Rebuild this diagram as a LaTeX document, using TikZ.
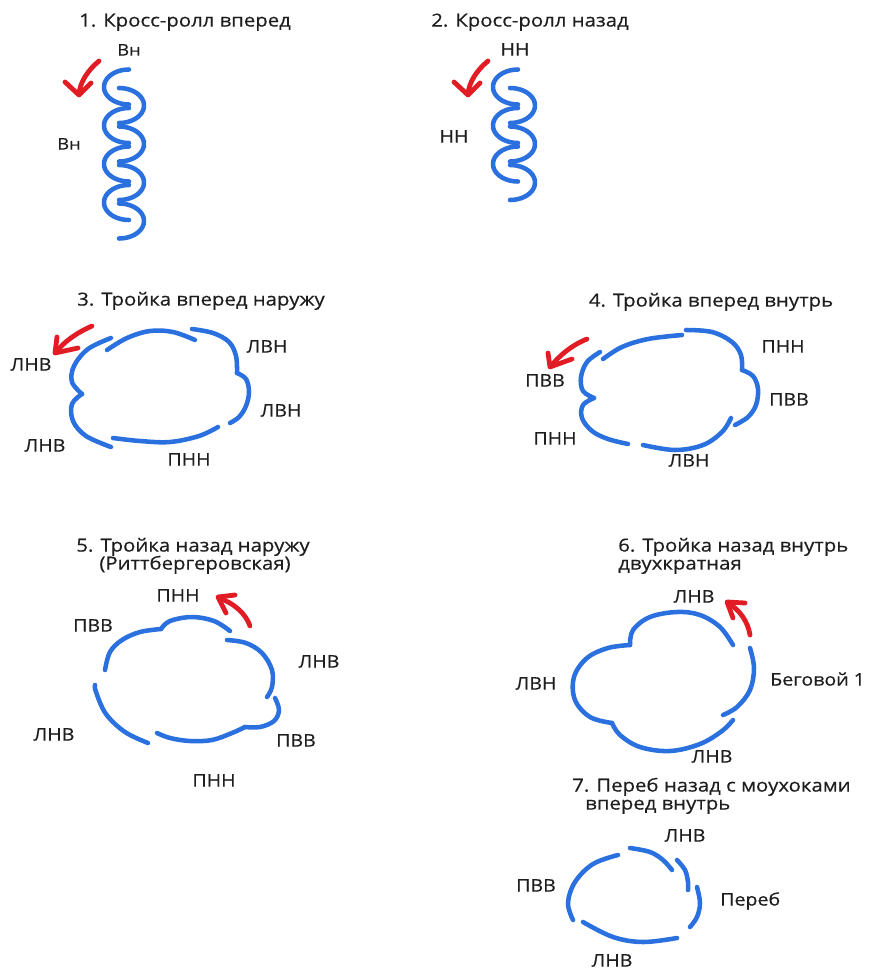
\documentclass[tikz,border=0pt]{standalone}
\usepackage{fontspec}
\setmainfont{Open Sans}[FakeStretch=1.13, FakeBold=0.4]
\definecolor{skateblue}{RGB}{42,112,222}
\definecolor{turnred}{RGB}{226,28,36}
\definecolor{inkgray}{RGB}{30,30,30}
\begin{document}
\begin{tikzpicture}[x=0.75pt,y=-0.75pt,
  trace/.style={draw=skateblue, line width=3.4pt, line cap=round, line join=round},
  turn/.style={draw=turnred, line width=3.6pt, line cap=round, line join=round},
  title/.style={font=\fontsize{13.5}{16}\selectfont, text=inkgray, inner sep=0pt, anchor=mid},
  tag/.style={font=\fontsize{13}{15}\selectfont, text=inkgray, inner sep=0pt, anchor=mid},
  smalltag/.style={tag, font=\fontsize{12}{14}\selectfont},
]
\fill[white] (0,0) rectangle (869,972);
\useasboundingbox (0,0) rectangle (869,972);

% ---------- 1. cross-roll forward ----------
\node[title] (t1) at (185,23) {1. Кросс-ролл вперед};
\node[smalltag] (l1a) at (129,52) {Вн};
\node[smalltag] (l1b) at (69,146) {Вн};
\foreach \k in {0,...,3} {
  \draw[trace] plot[domain=90:270, samples=30] ({129+25*cos(\x)}, {87+38.5*\k+17.5*sin(\x)});
  \draw[trace] plot[domain=-90:90, samples=30] ({119+25*cos(\x)}, {105.5+38.5*\k+17.5*sin(\x)});
}
\draw[turn] (99,61) .. controls (88,70) and (80,82) .. (79,94);
\draw[turn] (65,82) -- (79,95) -- (91,83);

% ---------- 2. cross-roll backward ----------
\node[title] (t2) at (530,23) {2. Кросс-ролл назад};
\node[tag] (l2a) at (515,52) {НН};
\node[tag] (l2b) at (454,139) {НН};
\foreach \k in {0,...,2} {
  \draw[trace] plot[domain=90:270, samples=30] ({518+25*cos(\x)}, {87+38.5*\k+17.5*sin(\x)});
  \draw[trace] plot[domain=-90:90, samples=30] ({510+25*cos(\x)}, {105.5+38.5*\k+17.5*sin(\x)});
}
\draw[turn] (488,61) .. controls (477,70) and (469,82) .. (468,94);
\draw[turn] (454,82) -- (468,95) -- (480,83);

% ---------- 3. forward outside three ----------
\node[title] (t3) at (201,302) {3. Тройка вперед наружу};
\node[tag] (l3a) at (31,367) {ЛНВ};
\node[tag] (l3b) at (267,349) {ЛВН};
\node[tag] (l3c) at (281,413) {ЛВН};
\node[tag] (l3d) at (45,448) {ЛНВ};
\node[tag] (l3e) at (189,462) {ПНН};
\draw[trace] plot[smooth, tension=0.6] coordinates {(111,338) (88,349) (74,366) (72,382) (82,394)};
\draw[trace] plot[smooth, tension=0.6] coordinates {(82,394) (72,404) (73,421) (86,436) (111,447)};
\draw[trace] plot[smooth, tension=0.6] coordinates {(107,350) (127,338) (150,331) (173,332) (195,340)};
\draw[trace] plot[smooth, tension=0.6] coordinates {(192,329) (213,333) (229,342) (236,356) (237,373)};
\draw[trace] plot[smooth, tension=0.6] coordinates {(237,373) (246,379) (249,392) (246,406) (239,417) (230,423)};
\draw[trace] plot[smooth, tension=0.6] coordinates {(218,427) (199,436) (170,442) (140,441) (113,438)};
\draw[turn] (92,326) .. controls (76,333) and (64,342) .. (56,352);
\draw[turn] (57,337) -- (55,353) -- (78,348);

% ---------- 4. forward inside three ----------
\node[title] (t4) at (711,303) {4. Тройка вперед внутрь};
\node[tag] (l4a) at (545,383) {ПВВ};
\node[tag] (l4b) at (783,349) {ПНН};
\node[tag] (l4c) at (789,402) {ПВВ};
\node[tag] (l4d) at (555,441) {ПНН};
\node[tag] (l4e) at (689,463) {ЛВН};
\draw[trace] plot[smooth, tension=0.6] coordinates {(600,352) (587,362) (581,377) (583,391) (594,398)};
\draw[trace] plot[smooth, tension=0.6] coordinates {(594,398) (583,405) (582,418) (592,431) (608,439) (628,444)};
\draw[trace] plot[smooth, tension=0.6] coordinates {(603,359) (622,347) (648,339) (682,335)};
\draw[trace] plot[smooth, tension=0.6] coordinates {(686,330) (712,332) (732,342) (741,355) (742,370)};
\draw[trace] plot[smooth, tension=0.6] coordinates {(742,370) (753,376) (758,389) (756,405) (748,417) (735,425)};
\draw[trace] plot[smooth, tension=0.6] coordinates {(731,418) (722,432) (703,445) (675,450) (643,445)};
\draw[turn] (587,339) .. controls (572,345) and (560,355) .. (551,366);
\draw[turn] (548,353) -- (550,367) -- (572,359);

% ---------- 5. backward outside three (Rittberger) ----------
\node[title] (t5a) at (193,548) {5. Тройка назад наружу};
\node[title] (t5b) at (195,566) {(Риттбергеровская)};
\node[tag] (l5a) at (178,598) {ПНН};
\node[tag] (l5b) at (93,628) {ПВВ};
\node[tag] (l5c) at (319,664) {ЛНВ};
\node[tag] (l5d) at (54,737) {ЛНВ};
\node[tag] (l5e) at (296,743) {ПВВ};
\node[tag] (l5f) at (214,783) {ПНН};
\draw[trace] plot[smooth, tension=0.6] coordinates {(105,670) (110,652) (122,640) (140,632) (161,629)};
\draw[trace] plot[smooth, tension=0.6] coordinates {(161,629) (170,621) (192,617) (214,621) (230,631)};
\draw[trace] plot[smooth, tension=0.6] coordinates {(227,640) (246,643) (262,653) (272,670) (272,687) (267,697)};
\draw[trace] plot[smooth, tension=0.6] coordinates {(275,698) (279,710) (274,721) (260,727) (245,727)};
\draw[trace] plot[smooth, tension=0.6] coordinates {(245,727) (232,733) (212,740) (190,741) (170,738) (157,733)};
\draw[trace] plot[smooth, tension=0.6] coordinates {(148,743) (125,732) (106,714) (96,692) (95,685)};
\draw[turn] (250,626) .. controls (246,614) and (234,603) .. (219,598);
\draw[turn] (235,595) -- (218,597) -- (226,613);

% ---------- 6. double backward inside three ----------
\node[title, anchor=mid west] (t6a) at (618,548) {6. Тройка назад внутрь};
\node[title, anchor=mid west] (t6b) at (618,566) {двухкратная};
\node[tag] (l6a) at (694,599) {ЛНВ};
\node[tag] (l6b) at (536,686) {ЛВН};
\node[tag, anchor=mid west] (l6c) at (770,682) {Беговой 1};
\node[tag] (l6d) at (712,759) {ЛНВ};
\draw[trace] plot[smooth, tension=0.6] coordinates {(733,645) (720,627) (700,615) (677,612) (650,617) (633,630) (630,645)};
\draw[trace] plot[smooth, tension=0.6] coordinates {(630,645) (608,648) (587,658) (574,677) (575,700) (590,717) (612,723)};
\draw[trace] plot[smooth, tension=0.6] coordinates {(612,723) (620,735) (640,747) (670,751) (700,744) (722,731) (733,720)};
\draw[trace] plot[smooth, tension=0.6] coordinates {(750,648) (754,668) (750,690) (737,707) (723,715)};
\draw[turn] (750,635) .. controls (748,622) and (740,610) .. (728,603);
\draw[turn] (745,603) -- (727,602) -- (733,618);

% ---------- 7. back crossover with forward inside mohawks ----------
\node[title, anchor=mid west] (t7a) at (572,788) {7. Переб назад с моухоками};
\node[title, anchor=mid west] (t7b) at (585,806) {вперед внутрь};
\node[tag] (l7a) at (685,838) {ЛНВ};
\node[tag] (l7b) at (536,888) {ПВВ};
\node[tag, anchor=mid west] (l7c) at (720,902) {Переб};
\node[tag] (l7d) at (612,963) {ЛНВ};
\draw[trace] plot[smooth, tension=0.6] coordinates {(630,848) (650,852) (663,860) (672,870)};
\draw[trace] plot[smooth, tension=0.6] coordinates {(677,860) (685,870) (688,882) (688,890)};
\draw[trace] plot[smooth, tension=0.6] coordinates {(697,887) (700,903) (697,917) (690,927)};
\draw[trace] plot[smooth, tension=0.6] coordinates {(583,922) (613,937) (643,942) (677,938)};
\draw[trace] plot[smooth, tension=0.6] coordinates {(618,855) (593,864) (575,882) (568,903) (573,920)};
\end{tikzpicture}
\end{document}
